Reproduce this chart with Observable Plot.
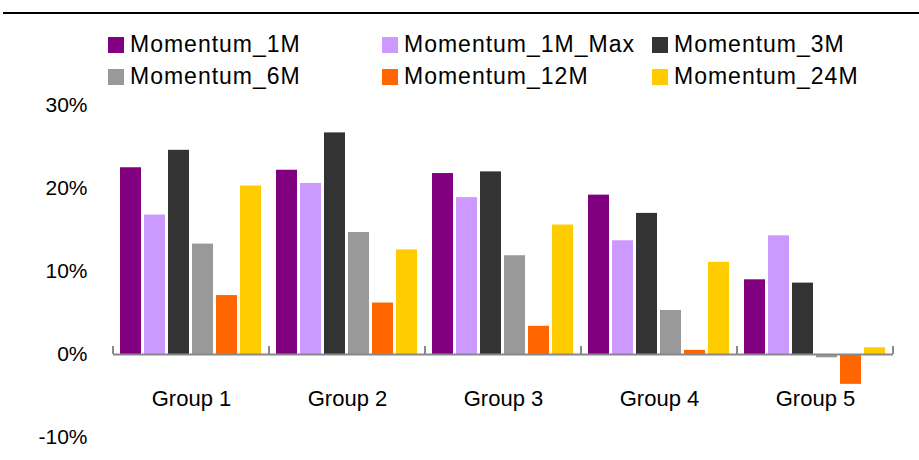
<!DOCTYPE html>
<html>
<head>
<meta charset="utf-8">
<script src="https://cdn.jsdelivr.net/npm/d3@7"></script>
<script src="https://cdn.jsdelivr.net/npm/@observablehq/plot@0.6"></script>
<style>
  html, body { margin: 0; padding: 0; background: #fff; }
  #wrap { position: relative; width: 919px; height: 460px; overflow: hidden; font-family: "Liberation Sans", Arial, sans-serif; }
  #topline { position: absolute; left: 3px; top: 12px; width: 916px; height: 2px; background: #000; }
  .lg { position: absolute; display: flex; align-items: center; font-size: 23px; letter-spacing: 1px; color: #000; white-space: nowrap; }
  .lg .sw { width: 16px; height: 16px; margin-right: 6px; }
  #chart { position: absolute; left: 0; top: 0; }
</style>
</head>
<body>
<div id="wrap">
  <div id="chart"></div>
  <div id="topline"></div>
  <div id="legend"></div>
</div>
<script>
const groups = ["Group 1", "Group 2", "Group 3", "Group 4", "Group 5"];
const series = ["Momentum_1M", "Momentum_1M_Max", "Momentum_3M", "Momentum_6M", "Momentum_12M", "Momentum_24M"];
const colors = ["#800080", "#CC99FF", "#333333", "#999999", "#FF6600", "#FFCC00"];
const m1    = [22.5, 22.2, 21.8, 19.2, 9.0];
const m1max = [16.8, 20.6, 18.9, 13.7, 14.3];
const m3    = [24.6, 26.7, 22.0, 17.0, 8.6];
const m6    = [13.3, 14.7, 11.9, 5.3, -0.4];
const m12   = [7.1, 6.2, 3.4, 0.5, -3.6];
const m24   = [20.3, 12.6, 15.6, 11.1, 0.8];
const yTicks = [-10, 0, 10, 20, 30];

const values = [m1, m1max, m3, m6, m12, m24];
const data = [];
groups.forEach((g, i) => series.forEach((s, j) => data.push({group: g, series: s, value: values[j][i]})));

const font = "Liberation Sans, Arial, sans-serif";

const plot = Plot.plot({
  width: 919,
  height: 460,
  marginTop: 105,
  marginBottom: 23,
  marginLeft: 113,
  marginRight: 26,
  style: {fontFamily: font, color: "#000", background: "transparent"},
  fx: {domain: groups, padding: 0, label: null},
  x: {domain: series, paddingInner: 0.11, paddingOuter: 0.3, axis: null},
  y: {domain: [-10, 30], label: null},
  color: {domain: series, range: colors},
  marks: [
    Plot.axisY({ticks: yTicks, tickFormat: d => d + "%", tickSize: 0, tickPadding: 26, fontSize: 21, label: null}),
    Plot.axisFx({anchor: "bottom", tickSize: 0, dy: -56, fontSize: 22, label: null, style: {letterSpacing: "0.5px"}}),
    Plot.barY(data, {fx: "group", x: "series", y: "value", fill: "series"}),
    Plot.ruleY([0], {stroke: "#888", strokeWidth: 2})
  ]
});

document.getElementById("chart").appendChild(plot);

// group boundary tick marks, using the library's scales
const fx = plot.scale("fx");
const ys = plot.scale("y");
const y0 = ys.apply(0);
const svg = d3.select(plot);
const edges = groups.map(g => fx.apply(g)).concat([fx.apply(groups[groups.length - 1]) + fx.bandwidth]);
svg.append("g").selectAll("line").data(edges).join("line")
  .attr("x1", d => d).attr("x2", d => d)
  .attr("y1", y0).attr("y2", y0 - 8)
  .attr("stroke", "#888").attr("stroke-width", 2);

// legend
const legendPos = [[108, 45], [382, 45], [652, 45], [108, 77], [382, 77], [652, 77]];
const legend = document.getElementById("legend");
series.forEach((s, i) => {
  const d = document.createElement("div");
  d.className = "lg";
  d.style.left = legendPos[i][0] + "px";
  d.style.top = (legendPos[i][1] - 14) + "px";
  d.innerHTML = `<span class="sw" style="background:${colors[i]}"></span><span>${s}</span>`;
  legend.appendChild(d);
});
</script>
</body>
</html>
